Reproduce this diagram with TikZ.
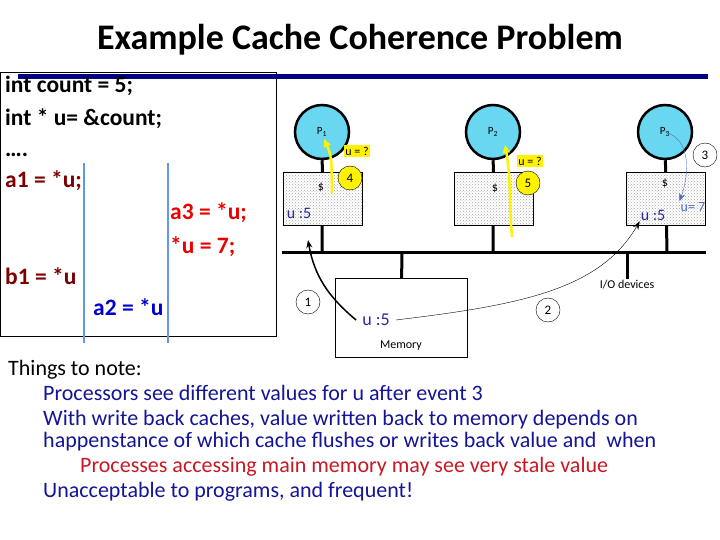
\documentclass[tikz,border=0pt]{standalone}
\usepackage{fontspec}
\setmainfont{Carlito}
\usetikzlibrary{patterns,arrows.meta}
\definecolor{procfill}{RGB}{105,215,240}
\definecolor{rulenavy}{RGB}{0,0,128}
\definecolor{notenavy}{RGB}{20,20,150}
\definecolor{notered}{RGB}{200,25,35}
\definecolor{darkred}{RGB}{125,0,0}
\definecolor{brightred}{RGB}{235,0,0}
\definecolor{codeblue}{RGB}{0,0,205}
\definecolor{lineblue}{RGB}{100,150,230}
\definecolor{valblue}{RGB}{40,40,160}
\definecolor{newblue}{RGB}{80,110,190}

\begin{document}
\begin{tikzpicture}[x=1pt, y=-1pt,
  proc/.style={circle, draw, line width=2.5pt, fill=procfill, minimum size=54pt, inner sep=0pt, font=\fontsize{11}{13}\selectfont},
  cachebox/.style={draw, pattern=crosshatch dots, pattern color=gray!70, minimum width=79pt, minimum height=53pt},
  membox/.style={draw, minimum width=132pt, minimum height=79pt},
  evt/.style={circle, draw, minimum size=24pt, inner sep=0pt, font=\fontsize{13}{15}\selectfont},
  query/.style={fill=yellow, inner sep=1.5pt, font=\fontsize{12}{14}\selectfont},
  small/.style={inner sep=1pt, font=\fontsize{12}{14}\selectfont},
  val/.style={inner sep=1pt, text=valblue, font=\fontsize{16}{18}\selectfont},
  code/.style={anchor=base west, inner sep=0pt, font=\bfseries\fontsize{23.5}{27}\selectfont},
  note/.style={anchor=base west, inner sep=0pt, text=notenavy, font=\fontsize{22}{25}\selectfont},
  bus/.style={line width=3pt},
  readarrow/.style={draw=yellow, line width=2.5pt, -{Triangle[length=8pt,width=7pt]}}]
\useasboundingbox (0,0) rectangle (720,540);

\node[font=\bfseries\fontsize{36}{40}\selectfont] (title) at (360,40) {Example Cache Coherence Problem};

\draw (0,72) rectangle (276,336);
\draw[lineblue, line width=2.5pt] (84,163) -- (84,343);
\draw[lineblue, line width=2.5pt] (168,163) -- (168,343);
\draw[rulenavy, line width=5pt] (18,77) -- (708,77);

\node[code] (l1) at (5,93) {int count = 5;};
\node[code] (l2) at (5,126) {int * u= \&count;};
\node[code] (l3) at (5,157) {….};
\node[code, text=darkred] (a1) at (5,188) {a1 = *u;};
\node[code, text=brightred] (a3) at (170,219) {a3 = *u;};
\node[code, text=brightred] (w3) at (170,253) {*u = 7;};
\node[code, text=darkred] (b1) at (5,284) {b1 = *u};
\node[code, text=codeblue] (a2) at (93,315) {a2 = *u};

\node[proc] (p1) at (322,132) {P\textsubscript{1}};
\node[proc] (p2) at (493,132) {P\textsubscript{2}};
\node[proc] (p3) at (665,132) {P\textsubscript{3}};
\node[cachebox] (c1) at (322.5,198.5) {};
\node[cachebox] (c2) at (493.5,198.5) {};
\node[cachebox] (c3) at (666,198.5) {};
\node[small] (s1) at (321,187) {\$};
\node[small] (s2) at (495,188) {\$};
\node[small] (s3) at (665,183) {\$};
\node[val] (c1u) at (299,213) {u :5};
\node[val] (c3u) at (653,215) {u :5};
\node[val, text=newblue, font=\fontsize{14}{16}\selectfont] (c3v) at (693,207) {u= 7};

\coordinate (b1) at (322,252);
\coordinate (b2) at (493,252);
\coordinate (b3) at (667,252);
\coordinate (bm) at (402,252);
\coordinate (bio) at (627,252);
\coordinate (busL) at (282,252);
\coordinate (busR) at (706,252);
\draw[bus] (busL) -- (busR);
\draw[bus] (p1) -- (c1);
\draw[bus] (p2) -- (c2);
\draw[bus] (p3) -- (c3);
\draw[bus] (c1) -- (b1);
\draw[bus] (c2) -- (b2);
\draw[bus] (c3) -- (b3);

\node[membox] (mem) at (401,317.5) {};
\node[val, inner sep=6pt, font=\fontsize{18}{20}\selectfont] (m5) at (376,320) {u :5};
\node[small] (memlbl) at (401,346) {Memory};
\node[small, anchor=north] (io) at (627,279) {I/O devices};
\draw[bus] (bm) -- (mem);
\draw[bus] (bio) -- (io);

\node[evt] (e1) at (308,302) {1};
\node[evt] (e2) at (548,310) {2};
\node[evt] (e3) at (705,155) {3};
\node[evt, fill=yellow] (e4) at (350,178) {4};
\node[evt, fill=yellow] (e5) at (528,183) {5};
\node[query] (q1) at (357,151) {u = ?};
\node[query] (q2) at (530,161) {u = ?};

\coordinate (r1) at (308,240);
\draw[line width=1.5pt, -{Stealth[length=8pt]}] (m5.west) to[out=140, in=-80] (r1);
\draw[-{Stealth[length=8pt]}] (m5.east) .. controls (520,305) and (600,290) .. (c3u.south west);
\draw[newblue, -{Stealth[length=8pt]}] (p3.center) to[out=-15, in=70] (c3v.north west);

\coordinate (y4s) at (332,193);
\coordinate (y4e) at (324,139);
\coordinate (y5s) at (512,237);
\coordinate (y5e) at (505,145);
\draw[readarrow] (y4s) to[out=92, in=-65] (y4e);
\draw[readarrow] (y5s) to[out=95, in=-80] (y5e);

\node[anchor=base west, inner sep=0pt, font=\fontsize{22}{25}\selectfont] (things) at (8,375) {Things to note:};
\node[note] (n1) at (43,400) {Processors see different values for u after event 3};
\node[note] (n2) at (43,425) {With write back caches, value written back to memory depends on};
\node[note] (n3) at (43,447) {happenstance of which cache flushes or writes back value and\ \ when};
\node[note, text=notered] (n4) at (80,472) {Processes accessing main memory may see very stale value};
\node[note] (n5) at (43,497) {Unacceptable to programs, and frequent!};
\end{tikzpicture}
\end{document}
